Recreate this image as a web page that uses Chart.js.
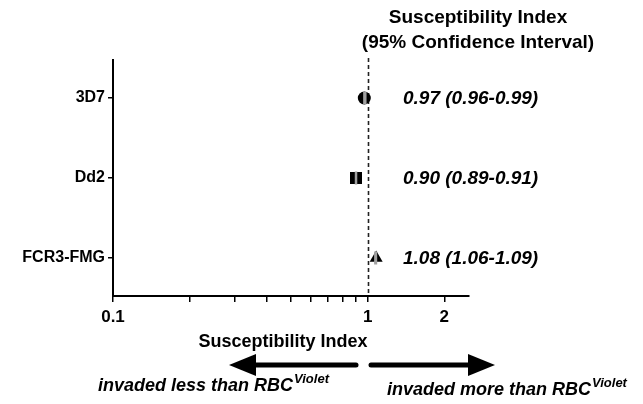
<!DOCTYPE html>
<html>
<head>
<meta charset="utf-8">
<script src="https://cdn.jsdelivr.net/npm/chart.js@4/dist/chart.umd.min.js"></script>
<style>
html,body{margin:0;padding:0;background:#fff;}
#wrap{width:643px;height:404px;position:relative;}
</style>
</head>
<body>
<div id="wrap"><canvas id="c" width="643" height="404"></canvas></div>
<script>
const categories = ['3D7', 'Dd2', 'FCR3-FMG'];
const indexValues = [0.97, 0.90, 1.08];
const ciLow = [0.96, 0.89, 1.06];
const ciHigh = [0.99, 0.91, 1.09];
const valueLabels = ['0.97 (0.96-0.99)', '0.90 (0.89-0.91)', '1.08 (1.06-1.09)'];
const markerStyles = ['circle', 'rect', 'triangle'];
const xTickValues = [0.1, 0.2, 0.3, 0.4, 0.5, 0.6, 0.7, 0.8, 0.9, 1, 2];
const xTickLabels = ['0.1', '1', '2'];
const headerLines = ['Susceptibility Index', '(95% Confidence Interval)'];
const xTitle = 'Susceptibility Index';

const FONT = "'Liberation Sans', Arial, sans-serif";

const overlay = {
  id: 'overlay',
  beforeDatasetsDraw(chart) {
    const ctx = chart.ctx, xs = chart.scales.x, ys = chart.scales.y;
    const x1 = Math.round(xs.getPixelForValue(1)) + 0.5;
    ctx.save();
    ctx.strokeStyle = '#222';
    ctx.lineWidth = 1.6;
    ctx.setLineDash([4, 3]);
    ctx.beginPath();
    ctx.moveTo(x1, 58);
    ctx.lineTo(x1, ys.bottom);
    ctx.stroke();
    ctx.restore();
  },
  afterDatasetsDraw(chart) {
    const ctx = chart.ctx, xs = chart.scales.x, ys = chart.scales.y;
    ctx.save();
    // CI bands
    ctx.fillStyle = '#a0a0a0';
    categories.forEach((c, i) => {
      const y = ys.getPixelForValue(i + 1);
      const a = xs.getPixelForValue(ciLow[i]);
      const b = xs.getPixelForValue(ciHigh[i]);
      const h = [12, 13, 13][i];
      ctx.fillRect(a, y - h / 2, Math.max(b - a, 2.5), h);
    });
    // value labels
    ctx.fillStyle = '#000';
    ctx.font = 'italic bold 19px ' + FONT;
    ctx.textBaseline = 'middle';
    ctx.textAlign = 'left';
    valueLabels.forEach((t, i) => {
      ctx.fillText(t, 403, ys.getPixelForValue(i + 1) + 1);
    });
    // header
    ctx.font = 'bold 19px ' + FONT;
    ctx.textAlign = 'center';
    ctx.fillText(headerLines[0], 478, 18);
    ctx.fillText(headerLines[1], 478, 43);
    // x-axis title
    ctx.font = 'bold 18px ' + FONT;
    ctx.fillText(xTitle, 283, 342);
    // arrows
    const ay = 365;
    ctx.fillStyle = '#000';
    ctx.strokeStyle = '#000';
    ctx.lineWidth = 5;
    ctx.lineCap = 'round';
    ctx.beginPath(); ctx.moveTo(250, ay); ctx.lineTo(356, ay); ctx.stroke();
    ctx.beginPath(); ctx.moveTo(229, ay); ctx.lineTo(256, ay - 11); ctx.lineTo(256, ay + 11); ctx.closePath(); ctx.fill();
    ctx.beginPath(); ctx.moveTo(371, ay); ctx.lineTo(472, ay); ctx.stroke();
    ctx.beginPath(); ctx.moveTo(495, ay); ctx.lineTo(468, ay - 11); ctx.lineTo(468, ay + 11); ctx.closePath(); ctx.fill();
    // arrow texts
    const drawSup = (main, sup, x, y) => {
      ctx.textAlign = 'left';
      ctx.textBaseline = 'alphabetic';
      ctx.font = 'italic bold 18px ' + FONT;
      ctx.fillText(main, x, y);
      const w = ctx.measureText(main).width;
      ctx.font = 'italic bold 13px ' + FONT;
      ctx.fillText(sup, x + w + 1, y - 8);
    };
    drawSup('invaded less than RBC', 'Violet', 98, 391);
    drawSup('invaded more than RBC', 'Violet', 387, 395);
    ctx.restore();
  }
};

new Chart(document.getElementById('c'), {
  type: 'scatter',
  data: {
    datasets: [{
      data: indexValues.map((v, i) => ({ x: v, y: i + 1 })),
      pointStyle: markerStyles,
      pointRadius: [6.5, 8.5, 7.5],
      pointBackgroundColor: '#000',
      pointBorderColor: '#000',
      pointBorderWidth: 0
    }]
  },
  options: {
    responsive: false,
    animation: false,
    devicePixelRatio: 1,
    layout: { padding: { left: 0, right: 174, top: 60, bottom: 0 } },
    plugins: { legend: { display: false }, tooltip: { enabled: false } },
    scales: {
      x: {
        type: 'logarithmic',
        min: 0.1,
        max: 2.5,
        afterBuildTicks(s) { s.ticks = xTickValues.map(v => ({ value: v })); },
        afterFit(s) { s.height = 108; },
        border: { color: '#000', width: 2 },
        grid: { drawOnChartArea: false, color: '#000', lineWidth: 1.5, tickLength: 6 },
        ticks: {
          autoSkip: false,
          maxRotation: 0,
          padding: 5,
          color: '#000',
          font: { family: FONT, size: 17, weight: 'bold' },
          callback(v) {
            const s = String(v);
            return xTickLabels.includes(s) ? s : '';
          }
        },
        title: { display: false }
      },
      y: {
        type: 'linear',
        reverse: true,
        min: 0.525,
        max: 3.475,
        afterBuildTicks(s) { s.ticks = categories.map((c, i) => ({ value: i + 1 })); },
        afterFit(s) { s.width = 113; },
        border: { color: '#000', width: 2 },
        grid: { drawOnChartArea: false, color: '#000', lineWidth: 1.5, tickLength: 5 },
        ticks: {
          padding: 3,
          color: '#000',
          font: { family: FONT, size: 16, weight: 'bold' },
          callback(v) { return categories[Math.round(v) - 1] || ''; }
        }
      }
    }
  },
  plugins: [overlay]
});
</script>
</body>
</html>
